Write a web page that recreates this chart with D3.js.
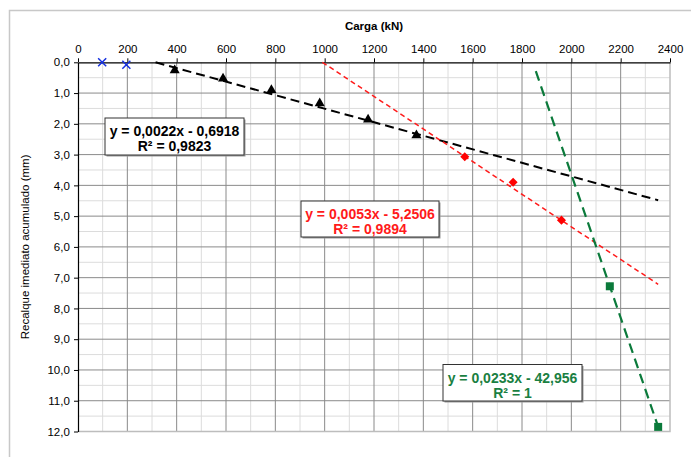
<!DOCTYPE html>
<html>
<head>
<meta charset="utf-8">
<script src="https://cdn.jsdelivr.net/npm/d3@7"></script>
<style>
  html, body { margin: 0; padding: 0; background: #fff; }
  svg { display: block; font-family: "Liberation Sans", Arial, sans-serif; }
</style>
</head>
<body>
<svg id="chart" width="691" height="457"></svg>
<script>
// Load stages (kN) and accumulated immediate settlement (mm)
const loadsInitial = [98, 196];
const settleInitial = [0.0, 0.08];

const loadsStage1 = [392, 588, 784, 980, 1176, 1372];
const settleStage1 = [0.26, 0.53, 0.90, 1.33, 1.86, 2.37];

const loadsStage2 = [1568, 1764, 1960];
const settleStage2 = [3.07, 3.90, 5.13];

const loadsStage3 = [2156, 2352];
const settleStage3 = [7.28, 11.85];

// Linear trendlines y = a·x + b with their R² and drawn load span
const trendSlopes = [0.0022, 0.0053, 0.0233];
const trendIntercepts = [-0.6918, -5.2506, -42.956];
const trendR2 = ["0,9823", "0,9894", "1"];
const trendSlopeText = ["0,0022", "0,0053", "0,0233"];
const trendInterceptText = ["0,6918", "5,2506", "42,956"];
const trendStart = [314.5, 990.7, 1856];
const trendEnd = [2352, 2352, 2352];

const xTicks = [0, 200, 400, 600, 800, 1000, 1200, 1400, 1600, 1800, 2000, 2200, 2400];
const yTicks = [0, 1, 2, 3, 4, 5, 6, 7, 8, 9, 10, 11, 12];

const svg = d3.select("#chart");
const W = 691, H = 457;
const m = { left: 78, top: 62.3, right: 670, bottom: 431.5 };

const x = d3.scaleLinear().domain([0, 2400]).range([m.left, m.right]);
const y = d3.scaleLinear().domain([0, 12]).range([m.top, m.bottom]);

// outer chart frame (top and left edges)
svg.append("path")
  .attr("d", `M9.5,${H} V10.5 H${W}`)
  .attr("fill", "none").attr("stroke", "#c8c8c8").attr("stroke-width", 1.5);

// grid
const grid = svg.append("g");
const minorX = d3.range(100, 2400, 200);
const minorY = d3.range(0.5, 12, 1);
grid.selectAll(".mx").data(minorX).join("line")
  .attr("x1", d => x(d)).attr("x2", d => x(d))
  .attr("y1", m.top).attr("y2", m.bottom)
  .attr("stroke", "#dcdcdc").attr("stroke-width", 1);
grid.selectAll(".my").data(minorY).join("line")
  .attr("y1", d => y(d)).attr("y2", d => y(d))
  .attr("x1", m.left).attr("x2", m.right)
  .attr("stroke", "#dcdcdc").attr("stroke-width", 1);
grid.selectAll(".Mx").data(xTicks.slice(1, -1)).join("line")
  .attr("x1", d => x(d)).attr("x2", d => x(d))
  .attr("y1", m.top).attr("y2", m.bottom)
  .attr("stroke", "#8a8a8a").attr("stroke-width", 1);
grid.selectAll(".My").data(yTicks.slice(1, -1)).join("line")
  .attr("y1", d => y(d)).attr("y2", d => y(d))
  .attr("x1", m.left).attr("x2", m.right)
  .attr("stroke", "#8a8a8a").attr("stroke-width", 1);

// plot border (right and bottom)
svg.append("path")
  .attr("d", `M${m.right},${m.top} V${m.bottom} H${m.left}`)
  .attr("fill", "none").attr("stroke", "#bdbdbd").attr("stroke-width", 1.5);

// axes
const xAxis = d3.axisTop(x).tickValues(xTicks).tickSize(4).tickSizeOuter(0)
  .tickFormat(d3.format("d"));
const yAxis = d3.axisLeft(y).tickValues(yTicks).tickSize(4).tickSizeOuter(0)
  .tickFormat(d => d3.format(".1f")(d).replace(".", ","));

const gx = svg.append("g").attr("transform", `translate(0,${m.top})`).call(xAxis);
const gy = svg.append("g").attr("transform", `translate(${m.left},0)`).call(yAxis);
[gx, gy].forEach(g => {
  g.select(".domain").attr("stroke", "#000").attr("stroke-width", 1.2);
  g.selectAll(".tick line").attr("stroke", "#000");
  g.selectAll(".tick text").attr("font-size", 11.5).attr("fill", "#000")
    .attr("font-family", "Liberation Sans, Arial, sans-serif");
});
gx.selectAll(".tick text").attr("dy", "-0.2em");
gy.selectAll(".tick text").attr("dx", "-0.1em");

// axis titles
svg.append("text")
  .attr("x", (m.left + m.right) / 2).attr("y", 30)
  .attr("text-anchor", "middle").attr("font-size", 11.5).attr("font-weight", "bold")
  .text("Carga (kN)");
svg.append("text")
  .attr("transform", `translate(29,${(m.top + m.bottom) / 2}) rotate(-90)`)
  .attr("text-anchor", "middle").attr("font-size", 11.5)
  .text("Recalque imediato acumulado (mm)");

// trendlines
const trendColors = ["#000000", "#ff1a1a", "#0b7a3b"];
const trendWidths = [2, 1.5, 2.2];
const trendDash = ["9,5", "5,3.5", "10,6"];
trendSlopes.forEach((a, i) => {
  const b = trendIntercepts[i];
  const pts = [trendStart[i], trendEnd[i]].map(v => [v, a * v + b]);
  svg.append("path")
    .attr("d", d3.line().x(d => x(d[0])).y(d => y(d[1]))(pts))
    .attr("fill", "none").attr("stroke", trendColors[i])
    .attr("stroke-width", trendWidths[i]).attr("stroke-dasharray", trendDash[i]);
});

// markers
const zip = (xs, ys) => xs.map((v, i) => [v, ys[i]]);

svg.append("g").selectAll("path").data(zip(loadsInitial, settleInitial)).join("path")
  .attr("d", d3.symbol(d3.symbolX, 44))
  .attr("transform", d => `translate(${x(d[0])},${y(d[1])})`)
  .attr("fill", "none").attr("stroke", "#1530e0").attr("stroke-width", 1.5);

svg.append("g").selectAll("path").data(zip(loadsStage1, settleStage1)).join("path")
  .attr("d", d3.symbol(d3.symbolTriangle, 44))
  .attr("transform", d => `translate(${x(d[0])},${y(d[1])})`)
  .attr("fill", "#000");

svg.append("g").selectAll("path").data(zip(loadsStage2, settleStage2)).join("path")
  .attr("d", d3.symbol(d3.symbolDiamond2, 52))
  .attr("transform", d => `translate(${x(d[0])},${y(d[1])})`)
  .attr("fill", "#ff0000");

svg.append("g").selectAll("path").data(zip(loadsStage3, settleStage3)).join("path")
  .attr("d", d3.symbol(d3.symbolSquare, 64))
  .attr("transform", d => `translate(${x(d[0])},${y(d[1])})`)
  .attr("fill", "#0b7a3b");

// equation boxes
const boxes = [
  { cx: 174.5, top: 118, w: 139, h: 37, color: "#000" },
  { cx: 370, top: 201, w: 138, h: 36, color: "#ff1a1a" },
  { cx: 512.5, top: 364.5, w: 139, h: 36.5, color: "#1a7f42" }
];
boxes.forEach((bx, i) => {
  const g = svg.append("g");
  g.append("rect")
    .attr("x", bx.cx - bx.w / 2 + 1.5).attr("y", bx.top + 1.5)
    .attr("width", bx.w).attr("height", bx.h).attr("fill", "#9a9a9a");
  g.append("rect")
    .attr("x", bx.cx - bx.w / 2).attr("y", bx.top)
    .attr("width", bx.w).attr("height", bx.h)
    .attr("fill", "#fff").attr("stroke", "#333").attr("stroke-width", 1);
  const lines = [
    `y = ${trendSlopeText[i]}x - ${trendInterceptText[i]}`,
    `R² = ${trendR2[i]}`
  ];
  lines.forEach((t, k) => {
    g.append("text")
      .attr("x", bx.cx).attr("y", bx.top + 18 + k * 15)
      .attr("text-anchor", "middle").attr("font-size", 14).attr("font-weight", "bold")
      .attr("fill", bx.color).attr("xml:space", "preserve")
      .text(t);
  });
});
</script>
</body>
</html>
